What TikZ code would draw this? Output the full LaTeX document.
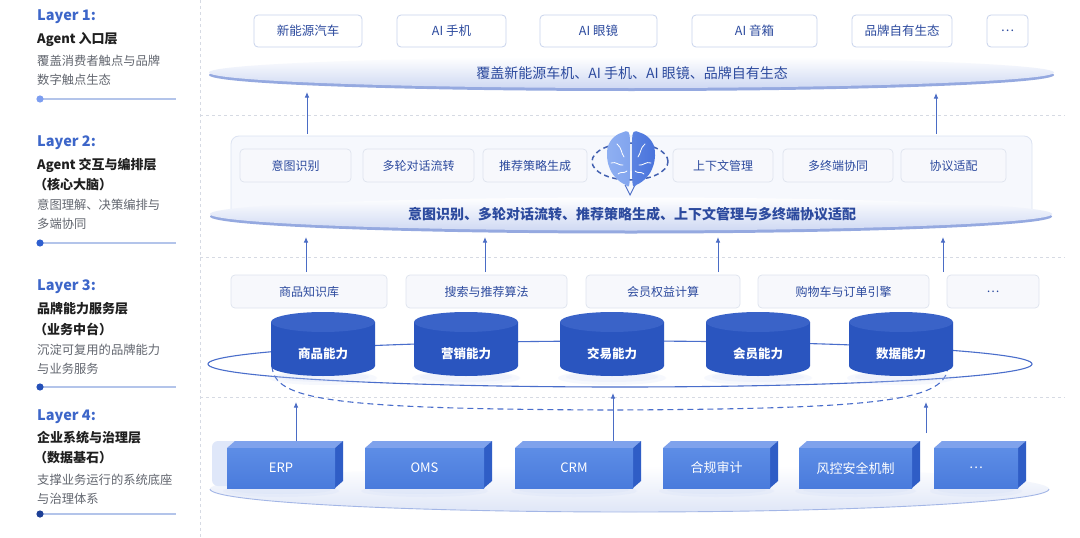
\documentclass[tikz,border=0pt]{standalone}
\usepackage{fontspec}
\setmainfont{Noto Sans CJK SC}
\usetikzlibrary{arrows.meta}
\definecolor{dkblue}{HTML}{2C4A9E}
\definecolor{lblue}{HTML}{3D66C9}
\definecolor{arrowc}{HTML}{4A6CC5}
\definecolor{sepc}{HTML}{D6DAE3}
\definecolor{boxborder}{HTML}{C8D3EC}
\definecolor{panelfill}{HTML}{F6F8FD}
\definecolor{panelborder}{HTML}{DCE3F2}
\definecolor{ibfill}{HTML}{F7F8FC}
\definecolor{ibborder}{HTML}{DEE3EE}
\definecolor{cylbody}{HTML}{2A55BF}
\definecolor{cyltop}{HTML}{3A63C8}
\definecolor{cubefrontA}{HTML}{5D8DE6}
\definecolor{cubefrontB}{HTML}{4A7BDC}
\definecolor{cubetop}{HTML}{7FA2EC}
\definecolor{cubeside}{HTML}{2F5DC6}
\definecolor{ringc}{HTML}{4A6ECB}
\definecolor{disc}{HTML}{CFD9F3}
\definecolor{discedge}{HTML}{95A9E0}
\definecolor{desc}{HTML}{62666F}
\definecolor{ttl}{HTML}{1F1F1F}
\definecolor{lineL}{HTML}{B3C4EA}
\definecolor{glow}{HTML}{C9D6F5}
\definecolor{brainL}{HTML}{8FB0F2}
\definecolor{brainR}{HTML}{4A74DC}
\definecolor{dot1}{HTML}{7D9EF0}
\definecolor{dot2}{HTML}{2F5FCF}
\definecolor{dot3}{HTML}{2550B8}
\definecolor{dot4}{HTML}{1D3F96}
\definecolor{basebot}{HTML}{DFE6F7}
\definecolor{baseedge}{HTML}{A3B6E6}
\tikzset{
  topbox/.style={draw=boxborder, fill=white, rounded corners=4pt, line width=0.8pt, minimum height=32pt, inner sep=0pt, text=dkblue, font=\fontsize{12.5}{14}\selectfont},
  ibox/.style={draw=ibborder, fill=ibfill, rounded corners=4pt, line width=0.7pt, minimum height=33pt, inner sep=0pt, text=dkblue, font=\fontsize{12}{14}\selectfont},
  arr/.style={draw=arrowc, line width=0.9pt, -{Latex[length=5.5pt,width=4.5pt]}},
  sepline/.style={draw=sepc, line width=0.7pt, dash pattern=on 3pt off 3pt},
  lyr/.style={anchor=west, text=lblue, font=\bfseries\fontsize{14.5}{16}\selectfont, inner sep=0pt},
  ttlst/.style={anchor=west, text=ttl, font=\bfseries\fontsize{13}{15}\selectfont, inner sep=0pt},
  dsc/.style={anchor=west, text=desc, font=\fontsize{12.3}{14}\selectfont, inner sep=0pt},
  disctext/.style={text=dkblue, font=\fontsize{14}{16}\selectfont, inner sep=0pt},
  cyltext/.style={text=white, font=\bfseries\fontsize{12.5}{14}\selectfont, inner sep=0pt},
  cubetext/.style={text=white, font=\fontsize{13}{15}\selectfont, inner sep=0pt},
  ringline/.style={draw=ringc, line width=1.1pt}
}
\newcommand\mycube[4]{%
  \fill[glow, opacity=0.18] ({(#2+#3)/2},491) ellipse [x radius={(#3-#2)/2*1pt+4pt}, y radius=6pt];
  \fill[glow, opacity=0.18] ({(#2+#3)/2},490) ellipse [x radius={(#3-#2)/2*1pt-4pt}, y radius=4pt];
  \fill[cubetop] (#2,448) -- ({#2+8},441) -- ({#3+8},441) -- (#3,448) -- cycle;
  \fill[cubeside] (#3,448) -- ({#3+8},441) -- ({#3+8},481) -- (#3,488) -- cycle;
  \shade[top color=cubefrontA, bottom color=cubefrontB] (#2,448) rectangle (#3,488);
  \node[cubetext] (#1) at ({(#2+#3)/2},468) {#4};
}
\newcommand\mycyl[3]{%
  \fill[glow, opacity=0.15] (#2,378) ellipse [x radius=54pt, y radius=7pt];
  \fill[glow, opacity=0.15] (#2,377) ellipse [x radius=46pt, y radius=5pt];
  \fill[cylbody] ({#2-52},322) -- ({#2-52},366) arc[start angle=180, end angle=360, x radius=52pt, y radius=10pt] -- ({#2+52},322) -- cycle;
  \fill[cyltop] (#2,322) ellipse [x radius=52pt, y radius=10pt];
  \node[cyltext] (#1) at (#2,354) {#3};
}
\begin{document}
\begin{tikzpicture}[x=1pt,y=-1pt]
\useasboundingbox (0,0) rectangle (1080,538);
\fill[white] (0,0) rectangle (1080,538);

% ---------- left column ----------
\node[lyr] (l1a) at (37,17) {Layer 1:};
\node[ttlst] (l1b) at (37,39) {Agent 入口层};
\node[dsc] (l1c) at (37,61) {覆盖消费者触点与品牌};
\node[dsc] (l1d) at (37,80) {数字触点生态};
\coordinate (d1) at (40,99); \coordinate (e1) at (176,99);
\draw[lineL, line width=1.1pt] (d1) -- (e1);
\fill[dot1] (d1) circle (3.6pt);

\node[lyr] (l2a) at (37,143) {Layer 2:};
\node[ttlst] (l2b) at (37,165) {Agent 交互与编排层};
\node[ttlst] (l2c) at (34,185) {（核心大脑）};
\node[dsc] (l2d) at (37,205) {意图理解、决策编排与};
\node[dsc] (l2e) at (37,224) {多端协同};
\coordinate (d2) at (40,243); \coordinate (e2) at (176,243);
\draw[lineL, line width=1.1pt] (d2) -- (e2);
\fill[dot2] (d2) circle (3.6pt);

\node[lyr] (l3a) at (37,287) {Layer 3:};
\node[ttlst] (l3b) at (37,309) {品牌能力服务层};
\node[ttlst] (l3c) at (34,329) {（业务中台）};
\node[dsc] (l3d) at (37,350) {沉淀可复用的品牌能力};
\node[dsc] (l3e) at (37,369) {与业务服务};
\coordinate (d3) at (40,387); \coordinate (e3) at (176,387);
\draw[lineL, line width=1.1pt] (d3) -- (e3);
\fill[dot3] (d3) circle (3.6pt);

\node[lyr] (l4a) at (37,417) {Layer 4:};
\node[ttlst] (l4b) at (37,438) {企业系统与治理层};
\node[ttlst] (l4c) at (34,458) {（数据基石）};
\node[dsc] (l4d) at (37,480) {支撑业务运行的系统底座};
\node[dsc] (l4e) at (37,499) {与治理体系};
\coordinate (d4) at (40,514); \coordinate (e4) at (176,514);
\draw[lineL, line width=1.1pt] (d4) -- (e4);
\fill[dot4] (d4) circle (3.6pt);

% ---------- separators ----------
\draw[sepline] (200,0) -- (200,538);
\draw[sepline] (200,115) -- (1065,115);
\draw[sepline] (200,257) -- (1065,257);
\draw[sepline] (200,397) -- (1065,397);

% ---------- layer 1 ----------
\fill[discedge] (631.5,75) ellipse [x radius=422.5pt, y radius=16pt];
\shade[top color=white, bottom color=disc] (631.5,72.5) ellipse [x radius=422.5pt, y radius=15.5pt];
\node[disctext] (t1) at (632,73) {覆盖新能源车机、AI 手机、AI 眼镜、品牌自有生态};
\node[topbox, minimum width=108pt] (b1) at (308,31) {新能源汽车};
\node[topbox, minimum width=109pt] (b2) at (451.5,31) {AI 手机};
\node[topbox, minimum width=117pt] (b3) at (598.5,31) {AI 眼镜};
\node[topbox, minimum width=125pt] (b4) at (754.5,31) {AI 音箱};
\node[topbox, minimum width=100pt] (b5) at (902,31) {品牌自有生态};
\node[topbox, minimum width=41pt] (b6) at (1007.5,31) {…};

% ---------- layer 2 ----------
\draw[panelborder, fill=panelfill, line width=0.8pt, rounded corners=8pt] (231,214) -- (231,136) -- (1032,136) -- (1032,214);
\node[ibox, minimum width=111pt] (i1) at (295.5,165.5) {意图识别};
\node[ibox, minimum width=111pt] (i2) at (418.5,165.5) {多轮对话流转};
\node[ibox, minimum width=104pt] (i3) at (535,165.5) {推荐策略生成};
\node[ibox, minimum width=100pt] (i4) at (723,165.5) {上下文管理};
\node[ibox, minimum width=110pt] (i5) at (838,165.5) {多终端协同};
\node[ibox, minimum width=105pt] (i6) at (953.5,165.5) {协议适配};
\fill[discedge] (631,216.5) ellipse [x radius=421pt, y radius=17pt];
\shade[top color=white, bottom color=disc] (631,214) ellipse [x radius=421pt, y radius=16.5pt];
\node[disctext, font=\bfseries\fontsize{14}{16}\selectfont] (t2) at (632,214) {意图识别、多轮对话流转、推荐策略生成、上下文管理与多终端协议适配};

% brain
\draw[draw=arrowc!90!black, line width=1.5pt, dash pattern=on 5pt off 3.5pt] (630,161.5) ellipse [x radius=38pt, y radius=18.5pt];
\coordinate (stemL) at (625,185); \coordinate (stemB) at (630,195); \coordinate (stemR) at (635,185);
\draw[arrowc, line width=0.9pt] (stemL) -- (stemB) -- (stemR);
\shade[left color=brainL, right color=brainL!80!brainR] plot[smooth cycle] coordinates {(629.5,135) (621,133) (613,138) (608,146) (607,156) (608.5,165) (612,173) (618,180) (625,184.5) (629.5,183)};
\shade[left color=brainR!75!brainL, right color=brainR] plot[smooth cycle] coordinates {(632.5,135) (641,133) (649,138) (654,146) (655,156) (653.5,165) (650,173) (644,180) (637,184.5) (632.5,183)};
\draw[white, line width=0.8pt, line cap=round] (617,144) .. controls (622,148) and (621,153) .. (624,157);
\draw[white, line width=0.8pt, line cap=round] (611,163) .. controls (616,161) and (619,166) .. (623,165);
\draw[white, line width=0.8pt, line cap=round] (618,174) .. controls (621,171) and (624,174) .. (627,171);
\draw[white, line width=0.8pt, line cap=round] (645,144) .. controls (640,148) and (641,153) .. (638,157);
\draw[white, line width=0.8pt, line cap=round] (651,163) .. controls (646,161) and (643,166) .. (639,165);
\draw[white, line width=0.8pt, line cap=round] (644,174) .. controls (641,171) and (638,174) .. (635,171);

% ---------- layer 3 ----------
\node[ibox, minimum width=156pt] (s1) at (309,291.5) {商品知识库};
\node[ibox, minimum width=161pt] (s2) at (486.5,291.5) {搜索与推荐算法};
\node[ibox, minimum width=154pt] (s3) at (663,291.5) {会员权益计算};
\node[ibox, minimum width=171pt] (s4) at (843.5,291.5) {购物车与订单引擎};
\node[ibox, minimum width=92pt] (s5) at (993,291.5) {…};
\draw[ringline] (620,364) ellipse [x radius=412pt, y radius=23pt];
\draw[ringline, dash pattern=on 6pt off 4pt] (272,366) .. controls (274,400) and (330,409) .. (610,410) .. controls (890,409) and (946,400) .. (948,366);
\mycyl{c1}{323}{商品能力}
\mycyl{c2}{466}{营销能力}
\mycyl{c3}{612}{交易能力}
\mycyl{c4}{758}{会员能力}
\mycyl{c5}{901}{数据能力}

% ---------- layer 4 ----------
\shade[top color=white, bottom color=basebot] (629.5,489) ellipse [x radius=419.5pt, y radius=23pt];
\draw[baseedge, line width=0.9pt] (210,489) arc[start angle=180, end angle=360, x radius=419.5pt, y radius=23pt];
\fill[glow!60!white, rounded corners=6pt] (212,486) -- (212,441) -- (245,441) -- (245,486) -- cycle;
\mycube{k1}{227}{335}{ERP}
\mycube{k2}{365}{484}{OMS}
\mycube{k3}{515}{633}{CRM}
\mycube{k4}{663}{770}{合规审计}
\mycube{k5}{799}{912}{风控安全机制}
\mycube{k6}{934}{1018}{…}

% ---------- arrows ----------
\coordinate (a1s) at (307,134); \coordinate (a1e) at (307,92);
\coordinate (a2s) at (936,134); \coordinate (a2e) at (936,93);
\draw[arr] (a1s) -- (a1e);
\draw[arr] (a2s) -- (a2e);
\coordinate (a3s) at (306,272); \coordinate (a3e) at (306,237);
\coordinate (a4s) at (485,272); \coordinate (a4e) at (485,237);
\coordinate (a5s) at (718,272); \coordinate (a5e) at (718,237);
\coordinate (a6s) at (943,272); \coordinate (a6e) at (943,237);
\draw[arr] (a3s) -- (a3e);
\draw[arr] (a4s) -- (a4e);
\draw[arr] (a5s) -- (a5e);
\draw[arr] (a6s) -- (a6e);
\coordinate (a7s) at (296,441); \coordinate (a7e) at (296,402);
\coordinate (a8s) at (613,441); \coordinate (a8e) at (613,393);
\coordinate (a9s) at (926,433); \coordinate (a9e) at (926,402);
\draw[arr] (a7s) -- (a7e);
\draw[arr] (a8s) -- (a8e);
\draw[arr] (a9s) -- (a9e);
\end{tikzpicture}
\end{document}
